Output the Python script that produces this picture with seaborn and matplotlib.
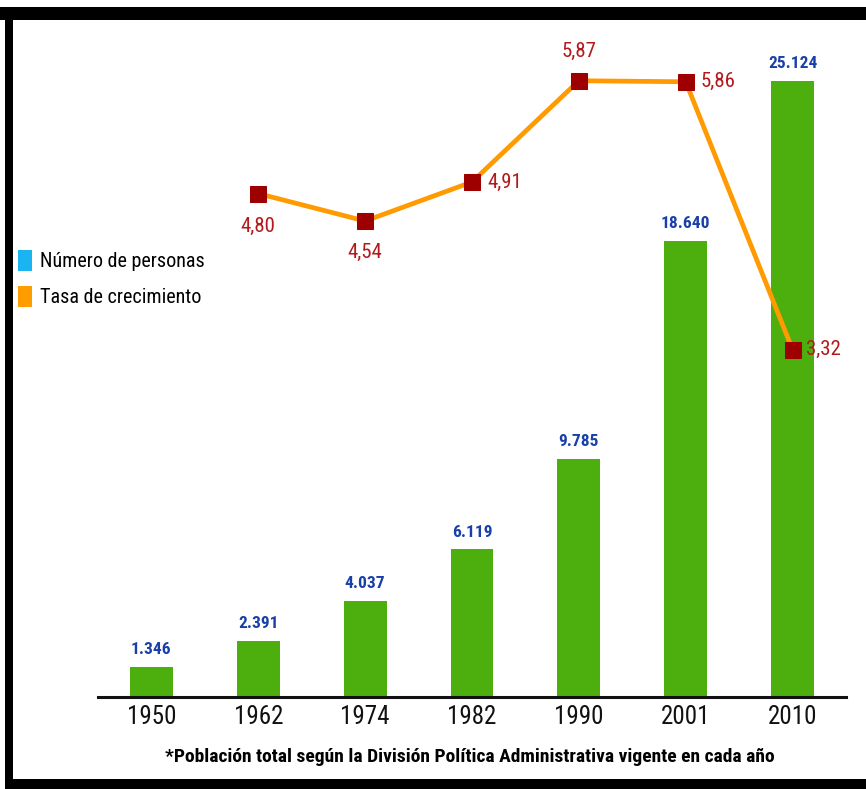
import matplotlib
matplotlib.use("Agg")
import matplotlib.pyplot as plt
from matplotlib import font_manager
from matplotlib.patches import Rectangle, Patch
import seaborn as sns
import pandas as pd

years = ["1950", "1962", "1974", "1982", "1990", "2001", "2010"]
personas = [1346, 2391, 4037, 6119, 9785, 18640, 25124]
etiquetas_personas = ["1.346", "2.391", "4.037", "6.119", "9.785", "18.640", "25.124"]
tasa_years = ["1962", "1974", "1982", "1990", "2001", "2010"]
tasa = [4.80, 4.54, 4.91, 5.87, 5.86, 3.32]
etiquetas_tasa = ["4,80", "4,54", "4,91", "5,87", "5,86", "3,32"]

BAR_GREEN = "#4caf0e"
LINE_ORANGE = "#ff9a00"
MARK_RED = "#9e0000"
LABEL_RED = "#b3191c"
LABEL_BLUE = "#1840a8"
LEG_BLUE = "#1ab4f2"
LEG_ORANGE = "#ff9c00"

sns.set_theme(style="white")

# prefer a narrow face if one is installed
installed = {f.name for f in font_manager.fontManager.ttflist}
narrow = sorted(n for n in installed
                if ("Condensed" in n or "Narrow" in n) and "Mono" not in n)
preferred = ["Roboto Condensed", "Open Sans Condensed", "Noto Sans Condensed",
             "DejaVu Sans Condensed", "Liberation Sans Narrow"]
chosen = [n for n in preferred if n in installed] + narrow
FONT = ([chosen[0]] if chosen else ["Liberation Sans"]) + ["DejaVu Sans"]
IS_NARROW = bool(chosen)
plt.rcParams["font.family"] = FONT
plt.rcParams["text.color"] = "black"

k = 1.0 if IS_NARROW else 0.9

W, H = 866, 789
fig = plt.figure(figsize=(W / 100, H / 100), dpi=100)
fig.patch.set_facecolor("white")

# axes box in pixel terms: x 98..846, y 40..697 (from top)
ax = fig.add_axes([98 / W, 1 - 697 / H, (846 - 98) / W, (697 - 40) / H])
ax.set_facecolor("none")

df = pd.DataFrame({"year": years, "personas": personas})
sns.barplot(data=df, x="year", y="personas", color=BAR_GREEN, width=0.4,
            saturation=1, ax=ax, zorder=2)
for p in ax.patches:
    p.set_edgecolor("none")

ax.set_xlim(-0.5, len(years) - 0.5)
ax.set_ylim(122, 26786)
ax.set_xlabel("")
ax.set_ylabel("")
ax.set_yticks([])

for i, (v, lab) in enumerate(zip(personas, etiquetas_personas)):
    ax.annotate(lab, (i, v), xytext=(0, 7), textcoords="offset points",
                ha="center", va="bottom", color=LABEL_BLUE,
                fontsize=12.5 * k, fontweight="bold", family=FONT)

# axis line with separator ticks between the years
for s in ["top", "left", "right"]:
    ax.spines[s].set_visible(False)
ax.spines["bottom"].set_color("#111111")
ax.spines["bottom"].set_linewidth(2.2)
ax.set_xticks(range(len(years)))
ax.set_xticklabels(years, fontsize=18 * k, family=FONT, color="#111111")
ax.tick_params(axis="x", which="major", length=0, pad=6)
ax.set_xticks([i - 0.5 for i in range(len(years) + 1)], minor=True)
ax.tick_params(axis="x", which="minor", length=10, width=2, color="#111111",
               direction="out")

# growth rate on its own scale
ax2 = ax.twinx()
ax2.set_facecolor("none")
xpos = [years.index(y) for y in tasa_years]
dft = pd.DataFrame({"x": xpos, "tasa": tasa})
sns.lineplot(data=dft, x="x", y="tasa", color=LINE_ORANGE, linewidth=3.4,
             marker="s", markersize=11, markerfacecolor=MARK_RED,
             markeredgecolor=MARK_RED, ax=ax2, zorder=3)
ax2.set_ylim(0.028, 6.256)
ax2.set_yticks([])
ax2.set_xlabel("")
ax2.set_ylabel("")
for s in ax2.spines.values():
    s.set_visible(False)

offsets = [(0, -17, "center", "top"), (0, -16, "center", "top"),
           (11, 0, "left", "center"), (0, 14, "center", "bottom"),
           (11, 0, "left", "center"), (10, 0, "left", "center")]
for x, v, lab, (dx, dy, ha, va) in zip(xpos, tasa, etiquetas_tasa, offsets):
    ax2.annotate(lab, (x, v), xytext=(dx, dy), textcoords="offset points",
                 ha=ha, va=va, color=LABEL_RED, fontsize=15 * k, family=FONT)
ax2.set_xlim(-0.5, len(years) - 0.5)

# legend on the left
handles = [Patch(facecolor=LEG_BLUE, edgecolor="none"),
           Patch(facecolor=LEG_ORANGE, edgecolor="none")]
leg = fig.legend(handles, ["Número de personas", "Tasa de crecimiento"],
                 loc="upper left", bbox_to_anchor=(18 / W, 1 - 250 / H),
                 frameon=False, prop={"family": FONT, "size": 14.5 * k},
                 handlelength=0.7, handleheight=1.2, handletextpad=0.4,
                 labelspacing=0.75, borderaxespad=0, borderpad=0)
for t in leg.get_texts():
    t.set_color("black")

fig.text(470 / W, 1 - 757 / H,
         "*Población total según la División Política Administrativa vigente en cada año",
         ha="center", va="center", fontsize=(14 if IS_NARROW else 11.5),
         fontweight="bold", family=FONT, color="black")

# black frame on top, left and bottom
for (x0, y0, w, h) in [(0, 7, W, 13), (5, 7, 8, 780), (5, 779, W, 10)]:
    fig.patches.append(Rectangle((x0 / W, 1 - (y0 + h) / H), w / W, h / H,
                                 transform=fig.transFigure, facecolor="black",
                                 edgecolor="none", zorder=10))

fig.savefig("out.png", dpi=100)
